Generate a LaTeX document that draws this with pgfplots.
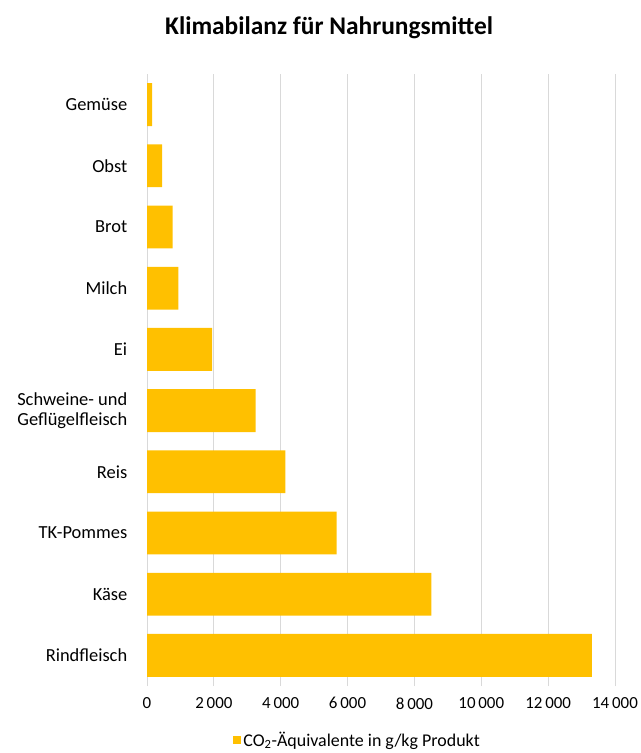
\documentclass[border=0pt]{standalone}
\usepackage{fontspec}
\setmainfont{Carlito}
\usepackage{pgfplots}
\pgfplotsset{compat=1.18}
\definecolor{bargold}{RGB}{255,192,0}
\definecolor{gridgray}{RGB}{217,217,217}
\begin{document}
\begin{tikzpicture}
\path[use as bounding box] (0,0) rectangle (641bp,753bp);
\begin{axis}[
  at={(147bp,67bp)}, anchor=south west,
  scale only axis, width=468bp, height=612bp,
  xbar, bar width=0.7,
  xmin=0, xmax=14000,
  ymin=-0.5, ymax=9.5,
  xtick={0,2000,...,14000},
  ytick={0,...,9},
  yticklabels={Rindfleisch,K\"ase,TK-Pommes,Reis,{Schweine- und\\Gefl\"ugelfleisch},Ei,Milch,Brot,Obst,Gem\"use},
  xmajorgrids, major grid style={gridgray, line width=0.8bp},
  axis line style={draw=none},
  tick style={draw=none},
  scaled x ticks=false,
  /pgf/number format/.cd, 1000 sep={\,}, assume math mode=true, /pgfplots/.cd,
  xticklabel style={font=\fontsize{17}{20}\selectfont, yshift=-8bp},
  yticklabel style={font=\fontsize{18.5}{20.5}\selectfont, align=right, xshift=-12bp},
  title={Klimabilanz f\"ur Nahrungsmittel},
  title style={font=\bfseries\fontsize{25.5}{28}\selectfont, at={(0.389,1.055)}, anchor=base},
  legend style={draw=none, at={(0.45,-0.088)}, anchor=center, font=\fontsize{18}{20}\selectfont, inner sep=0pt},
  legend image code/.code={\fill[bargold] (0bp,-4bp) rectangle (8bp,4bp);},
]
\addplot[fill=bargold, draw=none] coordinates {
  (13310,0) (8510,1) (5670,2) (4140,3) (3250,4) (1950,5) (940,6) (768,7) (450,8) (153,9)
};
\addlegendentry{CO\textsubscript{2}-\"Aquivalente in g/kg Produkt}
\end{axis}
\end{tikzpicture}
\end{document}
